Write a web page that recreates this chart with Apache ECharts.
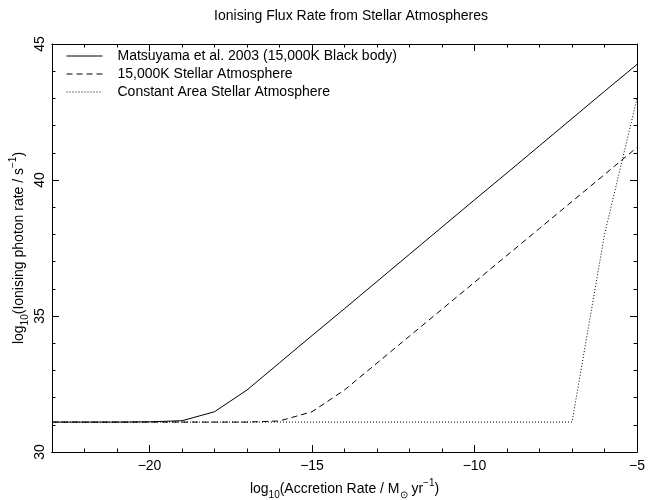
<!DOCTYPE html>
<html>
<head>
<meta charset="utf-8">
<script src="https://cdn.jsdelivr.net/npm/echarts@6/dist/echarts.min.js"></script>
<style>
  html, body { margin: 0; padding: 0; background: #fff; }
  #chart { width: 670px; height: 500px; }
</style>
</head>
<body>
<div id="chart"></div>
<script>
// log10 accretion rate (Msun/yr)
const accretion = [-23, -22, -21, -20, -19, -18, -17, -16, -15, -14, -13, -12, -11, -10, -9, -8, -7, -6, -5];
// log10 ionising photon rate (s^-1)
const blackBody = [31.1, 31.1, 31.1, 31.11, 31.15, 31.48, 32.28, 33.28, 34.28, 35.27, 36.27, 37.27, 38.27, 39.27, 40.26, 41.26, 42.26, 43.26, 44.25];
const stellarAtm = [31.1, 31.1, 31.1, 31.1, 31.1, 31.1, 31.1, 31.14, 31.48, 32.28, 33.27, 34.26, 35.25, 36.24, 37.23, 38.22, 39.21, 40.2, 41.2];
const constArea = [31.1, 31.1, 31.1, 31.1, 31.1, 31.1, 31.1, 31.1, 31.1, 31.1, 31.1, 31.1, 31.1, 31.1, 31.1, 31.1, 31.1, 38.0, 43.0];

const seriesNames = [
  'Matsuyama et al. 2003 (15,000K Black body)',
  '15,000K Stellar Atmosphere',
  'Constant Area Stellar Atmosphere'
];
const xMajor = [-20, -15, -10, -5];
const xMinor = [-23, -22, -21, -19, -18, -17, -16, -14, -13, -12, -11, -9, -8, -7, -6];

const font = 'Liberation Sans';
const chart = echarts.init(document.getElementById('chart'));

const pairs = (ys) => accretion.map((x, i) => [x, ys[i]]);
const minus = (v) => String(v).replace('-', '\u2212');

const richText = {
  n: { fontFamily: font, fontSize: 14, color: '#000', lineHeight: 22, verticalAlign: 'middle' },
  sub: { fontFamily: font, fontSize: 10, color: '#000', lineHeight: 22, verticalAlign: 'bottom' },
  sup: { fontFamily: font, fontSize: 10, color: '#000', lineHeight: 22, verticalAlign: 'top' }
};

function xAxisDef(pos, ticks, len, withLabel) {
  return {
    type: 'value', position: pos, min: -23, max: -5,
    axisLine: { show: true, lineStyle: { color: '#000', width: 1 } },
    axisTick: { show: true, inside: true, length: len, customValues: ticks, lineStyle: { color: '#000' } },
    axisLabel: withLabel ? {
      show: true, customValues: xMajor, formatter: minus, margin: 7,
      fontFamily: font, fontSize: 14, color: '#000'
    } : { show: false },
    splitLine: { show: false }
  };
}

function yAxisDef(pos, withLabel) {
  return {
    type: 'value', position: pos, min: 30, max: 45, interval: 5,
    axisLine: { show: true, lineStyle: { color: '#000', width: 1 } },
    axisTick: { show: true, inside: true, length: 7, lineStyle: { color: '#000' } },
    minorTick: { show: true, splitNumber: 5, length: 3.5, lineStyle: { color: '#000' } },
    axisLabel: withLabel ? {
      show: true, rotate: 90, margin: 5, fontFamily: font, fontSize: 14, color: '#000'
    } : { show: false },
    splitLine: { show: false }
  };
}

const xAxes = [
  xAxisDef('bottom', xMajor, 7, true),
  xAxisDef('bottom', xMinor, 3.5, false),
  xAxisDef('top', xMajor, 7, false),
  xAxisDef('top', xMinor, 3.5, false)
];
xAxes[0].name = '{n|log}{sub|10}{n|(Accretion Rate / M}{sub|\u2299}{n| yr}{sup|\u22121}{n|)}';
xAxes[0].nameLocation = 'middle';
xAxes[0].nameGap = 26;
xAxes[0].nameMoveOverlap = false;
xAxes[0].nameTextStyle = { rich: richText };

const yAxes = [yAxisDef('left', true), yAxisDef('right', false)];
yAxes[0].name = '{n|log}{sub|10}{n|(Ionising photon rate / s}{sup|\u22121}{n|)}';
yAxes[0].nameLocation = 'middle';
yAxes[0].nameGap = 22;
yAxes[0].nameMoveOverlap = false;
yAxes[0].nameTextStyle = { rich: richText };

chart.setOption({
  animation: false,
  backgroundColor: '#fff',
  title: {
    text: 'Ionising Flux Rate from Stellar Atmospheres',
    left: 346, top: 4, textAlign: 'center',
    textStyle: { fontFamily: font, fontSize: 14, fontWeight: 'normal', color: '#000' }
  },
  legend: {
    orient: 'vertical', left: 61, top: 44,
    itemWidth: 36, itemHeight: 12, itemGap: 4,
    itemStyle: { opacity: 0 },
    lineStyle: { width: 1 },
    textStyle: { fontFamily: font, fontSize: 14, color: '#000', padding: [0, 0, 0, 10] },
    data: seriesNames
  },
  grid: { left: 52, right: 33, top: 44, bottom: 48, containLabel: false, outerBoundsMode: 'none' },
  xAxis: xAxes,
  yAxis: yAxes,
  series: [
    {
      name: seriesNames[0], type: 'line', showSymbol: false, symbol: 'none',
      data: pairs(blackBody),
      lineStyle: { color: '#000', width: 1, type: 'solid' }, itemStyle: { color: '#000' }
    },
    {
      name: seriesNames[1], type: 'line', showSymbol: false, symbol: 'none',
      data: pairs(stellarAtm),
      lineStyle: { color: '#000', width: 1, type: [6, 4] }, itemStyle: { color: '#000' }
    },
    {
      name: seriesNames[2], type: 'line', showSymbol: false, symbol: 'none',
      data: pairs(constArea),
      lineStyle: { color: '#000', width: 1, type: [1, 2] }, itemStyle: { color: '#000' }
    }
  ]
});
</script>
</body>
</html>
